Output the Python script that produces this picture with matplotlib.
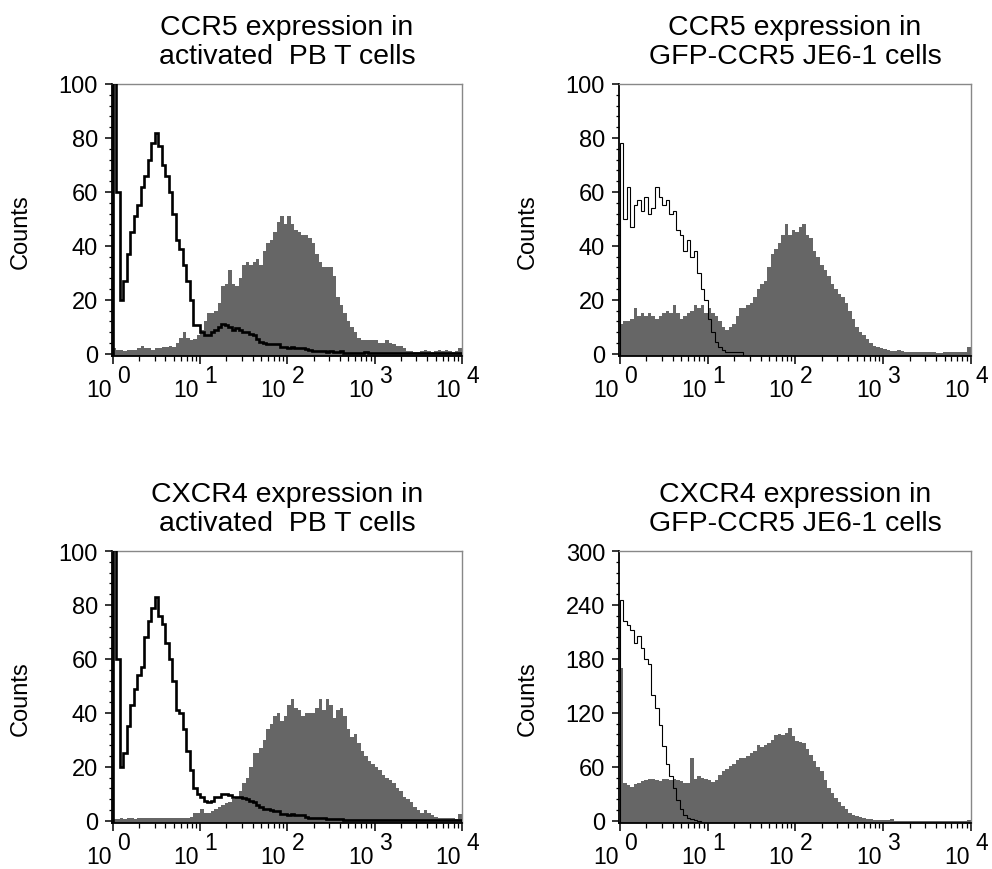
import numpy as np
import matplotlib
matplotlib.use('Agg')
import matplotlib.pyplot as plt
from matplotlib.ticker import MultipleLocator, LogLocator, NullFormatter

plt.rcParams['font.family'] = ['Liberation Sans', 'DejaVu Sans']

N_BINS = 100
DECADES = [0, 1, 2, 3, 4]
GRAY = '#666666'

TITLES = [
    'CCR5 expression in\nactivated  PB T cells',
    'CCR5 expression in\nGFP-CCR5 JE6-1 cells',
    'CXCR4 expression in\nactivated  PB T cells',
    'CXCR4 expression in\nGFP-CCR5 JE6-1 cells',
]
Y_MAX = [100, 100, 100, 300]
Y_STEP = [20, 20, 20, 60]

# counts per log bin (25 bins per decade)
PB_CCR5_OPEN = [
    130, 60, 20, 27, 37, 45, 51, 55, 62, 66, 72, 78, 82, 77, 70, 66, 60, 52, 42, 39,
    33, 27, 20, 10.5, 10.5, 8, 7, 7, 8, 9, 10, 11, 10.5, 10, 9, 9.5, 9, 8, 8, 7.5,
    7, 5.5, 4.3, 4, 3.7, 3.7, 3.7, 3.5, 2.5, 2.5, 2, 2.5, 2, 2, 2, 1.7, 1.5, 1, 1, 1,
    1, 0.5, 1, 0.5, 0.5, 1, 0.4, 0.3, 0.3, 0.4, 0.3, 0.3, 0.7, 0.3, 0.3, 0.3, 0.4, 0.3, 0.3, 0.3,
    0.3, 0.3, 0.3, 0.3, 0.3, 0.3, 0.3, 0.3, 0.3, 0.3, 0.3, 0.3, 0.3, 0.3, 0.3, 0.3, 0.3, 0.3, 0.3, 0.3,
]
PB_CCR5_FILLED = [
    2, 1.5, 1.5, 1, 1.5, 1.5, 1.5, 2, 3, 2, 2, 1.5, 2, 2, 2.5, 2.5, 3, 2.5, 4, 6,
    8, 6, 5, 5.5, 7, 9, 12, 15, 15, 16, 19, 25, 26, 31, 26, 25, 28, 33, 34, 33,
    34, 35, 33, 38, 41, 42, 45, 49, 51, 48, 51, 48, 46, 45, 44, 44, 43, 41, 37, 34,
    32, 32, 32, 29, 21, 18, 15, 12, 10, 8, 6, 5, 5, 5, 5, 5, 4, 4, 5, 4,
    3.5, 3, 3, 2, 1, 1, 0.8, 0.8, 1, 1.5, 1, 0.8, 1, 1.5, 1, 1.5, 1, 0.8, 1, 2,
]
JE6_CCR5_OPEN = [
    78, 50, 62, 47, 55, 57, 53, 58, 52, 54, 62, 58, 55, 57, 52, 53, 46, 44, 38, 42,
    36, 38, 30, 24, 20, 13, 8, 4.5, 2.5, 1.5, 0.7, 0.5, 0.8, 0.5, 0.6,
]
JE6_CCR5_FILLED = [
    11, 12, 12, 13, 17, 14, 15, 14, 15, 14, 13, 14, 15, 16, 15, 18, 15, 13, 14, 15,
    16, 18, 17, 18, 15, 17, 15, 14, 12, 10, 9, 10, 11, 14, 17, 17, 18, 19, 21, 24,
    26, 27, 32, 37, 39, 41, 44, 48, 44, 46, 45, 47, 48, 44, 43, 38, 36, 33, 31, 29,
    26, 24, 22, 21, 19, 16, 13, 10, 8, 7, 5.5, 4, 3, 2.5, 2, 1.8, 1.5, 1, 1, 1.5,
    1.2, 0.8, 0.8, 0.8, 0.8, 0.8, 0.8, 0.8, 0.8, 0.6, 0.3, 0.2, 0.5, 0.6, 0.8, 0.8, 0.8, 0.8, 0.8, 2.5,
]
PB_CXCR4_OPEN = [
    130, 60, 20, 25, 35, 43, 49, 54, 57, 68, 74, 79, 83, 76, 73, 66, 60, 52, 41, 40,
    34, 26, 19, 12, 10, 9, 7.5, 7, 7.5, 9, 9, 10, 10, 9.5, 9, 9, 9, 8.5, 8, 7.5,
    7, 6, 5, 4.5, 4.3, 4, 3.7, 3.5, 2.5, 2.5, 2, 2.5, 2, 2, 2, 1.5, 1.2, 1.2, 1, 1,
    1.2, 0.7, 0.7, 0.6, 0.6, 0.8, 0.4, 0.4, 0.3, 0.3, 0.4, 0.3, 0.3, 0.3, 0.3, 0.3, 0.3, 0.3, 0.3, 0.3,
    0.3, 0.3, 0.3, 0.3, 0.3, 0.3, 0.3, 0.3, 0.3, 0.3, 0.3, 0.3, 0.3, 0.3, 0.3, 0.3, 0.3, 0.3, 0.3, 0.3,
]
PB_CXCR4_FILLED = [
    0.8, 0.5, 1, 0.8, 1, 1, 0.8, 1, 1, 1, 1, 1, 1, 1, 1, 1, 1, 1, 1, 1,
    1, 1.2, 1.5, 3, 3, 4.5, 3, 3, 3.5, 4.5, 5, 6, 6.5, 7, 8, 9, 11, 14, 16, 20,
    25, 25, 27, 30, 34, 36, 39, 40, 37, 39, 43, 45, 42, 41, 39, 40, 40, 40, 42, 45,
    41, 45, 43, 38, 41, 42, 39, 34, 31, 32, 29, 26, 24, 22, 21, 20, 19, 17, 16, 15,
    14, 12, 11, 9, 8, 7, 5, 4, 3, 4, 3, 2, 1.5, 1, 1, 1, 1.2, 1, 0.8, 2.5,
]
JE6_CXCR4_OPEN = [
    245, 222, 218, 212, 198, 205, 192, 180, 174, 140, 125, 106, 83, 63, 50, 36, 23, 13, 6, 3.5,
    1.5, 0.7, 0.3,
]
JE6_CXCR4_FILLED = [
    170, 42, 40, 38, 41, 42, 44, 45, 46, 47, 45, 44, 46, 46, 45, 47, 45, 44, 42, 42,
    70, 46, 50, 48, 46, 45, 43, 45, 51, 55, 58, 61, 63, 68, 70, 70, 72, 75, 78, 84,
    82, 84, 87, 90, 95, 96, 95, 98, 103, 94, 89, 88, 86, 80, 73, 66, 60, 55, 45, 37,
    31, 25, 21, 17, 13, 9, 7, 5.5, 4, 3, 2, 1.5, 1, 1, 0.6, 0.5, 0.5, 1.5, 0.3, 0.3,
    0.3, 0.3, 0.3, 0.3, 0.3, 0.3, 0.3, 0.3, 0.3, 0.3, 0.3, 0.3, 0.3, 0.3, 0.3, 0.3, 0.3, 0.3, 0.3, 0.5,
]

OPEN = [PB_CCR5_OPEN, JE6_CCR5_OPEN, PB_CXCR4_OPEN, JE6_CXCR4_OPEN]
FILLED = [PB_CCR5_FILLED, JE6_CCR5_FILLED, PB_CXCR4_FILLED, JE6_CXCR4_FILLED]
LINE_WIDTH = [1.9, 0.8, 1.9, 0.8]

AX_POS = [
    [0.1129, 0.5897, 0.3528, 0.3126],
    [0.6240, 0.5897, 0.3548, 0.3126],
    [0.1129, 0.0529, 0.3528, 0.3126],
    [0.6240, 0.0529, 0.3548, 0.3126],
]


def draw_panel(ax, title, filled, line, y_max, y_step, lw):
    edges = np.logspace(0, 4, N_BINS + 1)
    y_lo = -y_max * 0.008

    ax.stairs(filled, edges, fill=True, color=GRAY, baseline=y_lo, lw=0, zorder=2)
    ax.stairs(line, edges[:len(line) + 1], color='black', baseline=y_lo,
              lw=lw, zorder=3)

    ax.set_xscale('log')
    ax.set_xlim(10 ** -0.01, 1e4)
    ax.set_ylim(y_lo, y_max)

    ax.yaxis.set_major_locator(MultipleLocator(y_step))
    ax.yaxis.set_minor_locator(MultipleLocator(y_step / 5))
    ax.xaxis.set_major_locator(LogLocator(base=10, numticks=10))
    ax.xaxis.set_minor_locator(LogLocator(base=10, subs=np.arange(2, 10), numticks=20))
    ax.xaxis.set_major_formatter(NullFormatter())
    ax.xaxis.set_minor_formatter(NullFormatter())

    ax.tick_params(axis='y', which='major', length=5, width=1.1, pad=5, labelsize=17)
    ax.tick_params(axis='y', which='minor', length=2.5, width=0.9)
    ax.tick_params(axis='x', which='major', length=5.5, width=1.1)
    ax.tick_params(axis='x', which='minor', length=3.5, width=0.9)

    for side in ['top', 'right']:
        ax.spines[side].set_color('#888888')
        ax.spines[side].set_linewidth(1.0)
    for side in ['left', 'bottom']:
        ax.spines[side].set_linewidth(1.3)

    for d in DECADES:
        ax.annotate('10', xy=(10 ** d, 0), xycoords=('data', 'axes fraction'),
                    xytext=(-1, -29), textcoords='offset points',
                    ha='right', va='baseline', fontsize=16.5, annotation_clip=False)
        ax.annotate(str(d), xy=(10 ** d, 0), xycoords=('data', 'axes fraction'),
                    xytext=(3, -19), textcoords='offset points',
                    ha='left', va='baseline', fontsize=16.5, annotation_clip=False)

    ax.set_ylabel('Counts', fontsize=17)
    ax.yaxis.set_label_coords(-0.228, 0.46)
    ax.set_title(title, fontsize=20.5, linespacing=1.15, pad=15)


fig = plt.figure(figsize=(9.92, 8.70), dpi=100)

for i in range(4):
    ax = fig.add_axes(AX_POS[i])
    draw_panel(ax, TITLES[i], FILLED[i], OPEN[i], Y_MAX[i], Y_STEP[i], LINE_WIDTH[i])

fig.savefig('out.png', dpi=100)
plt.close()
